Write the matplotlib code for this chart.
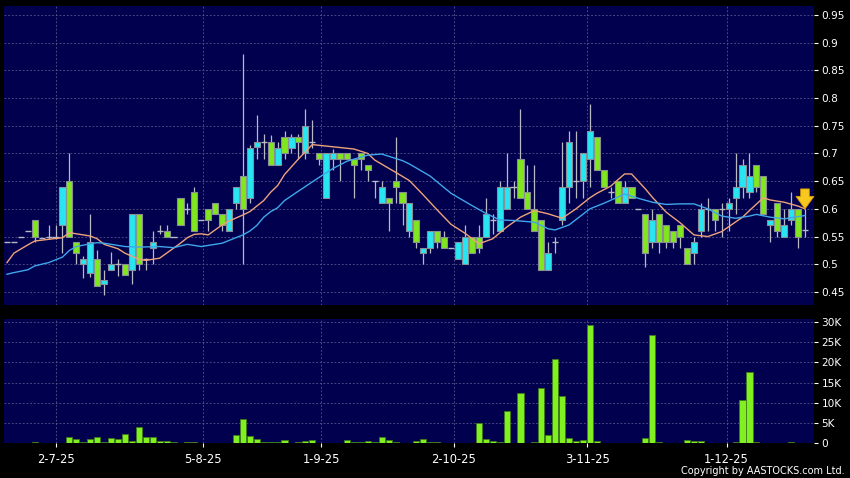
import matplotlib
matplotlib.use("Agg")
import matplotlib.pyplot as plt
import numpy as np

# ---------------- data ----------------
opens = [0.54, 0.54, 0.55, 0.56, 0.58, 0.548, 0.55, 0.55, 0.57, 0.65,
         0.54, 0.50, 0.485, 0.51, 0.465, 0.49, 0.50, 0.50, 0.49, 0.59,
         0.51, 0.53, 0.56, 0.56, 0.55, 0.62, 0.60, 0.63, 0.58, 0.60,
         0.61, 0.59, 0.56, 0.61, 0.66, 0.62, 0.711, 0.72, 0.72, 0.68,
         0.73, 0.71, 0.73, 0.70, 0.72, 0.70, 0.62, 0.69, 0.70, 0.70,
         0.69, 0.70, 0.68, 0.65, 0.61, 0.62, 0.65, 0.63, 0.56, 0.58,
         0.52, 0.53, 0.56, 0.55, 0.53, 0.51, 0.50, 0.55, 0.55, 0.55,
         0.58, 0.56, 0.60, 0.64, 0.69, 0.63, 0.60, 0.58, 0.49, 0.54,
         0.58, 0.64, 0.65, 0.65, 0.69, 0.73, 0.67, 0.63, 0.65, 0.61,
         0.64, 0.60, 0.59, 0.54, 0.59, 0.57, 0.56, 0.57, 0.53, 0.52,
         0.56, 0.60, 0.60, 0.60, 0.60, 0.62, 0.64, 0.63, 0.68, 0.66,
         0.57, 0.61, 0.55, 0.58, 0.60, 0.562]
highs = [0.54, 0.54, 0.55, 0.56, 0.58, 0.548, 0.57, 0.57, 0.64, 0.70,
         0.54, 0.515, 0.59, 0.525, 0.49, 0.523, 0.51, 0.50, 0.59, 0.59,
         0.512, 0.56, 0.57, 0.57, 0.55, 0.62, 0.61, 0.64, 0.58, 0.60,
         0.61, 0.59, 0.60, 0.64, 0.88, 0.715, 0.77, 0.735, 0.733, 0.72,
         0.74, 0.735, 0.735, 0.78, 0.76, 0.70, 0.70, 0.708, 0.70, 0.70,
         0.69, 0.70, 0.68, 0.65, 0.65, 0.62, 0.73, 0.63, 0.61, 0.58,
         0.53, 0.56, 0.56, 0.56, 0.53, 0.54, 0.57, 0.55, 0.57, 0.62,
         0.59, 0.65, 0.70, 0.65, 0.78, 0.68, 0.68, 0.58, 0.54, 0.55,
         0.72, 0.74, 0.74, 0.70, 0.79, 0.73, 0.67, 0.64, 0.65, 0.65,
         0.64, 0.60, 0.59, 0.60, 0.59, 0.57, 0.56, 0.57, 0.53, 0.55,
         0.61, 0.62, 0.60, 0.61, 0.62, 0.70, 0.69, 0.70, 0.68, 0.66,
         0.58, 0.61, 0.60, 0.63, 0.60, 0.60]
lows = [0.54, 0.54, 0.55, 0.56, 0.54, 0.548, 0.545, 0.545, 0.52, 0.55,
        0.50, 0.475, 0.477, 0.46, 0.445, 0.49, 0.478, 0.48, 0.465, 0.49,
        0.49, 0.50, 0.555, 0.55, 0.55, 0.57, 0.59, 0.56, 0.58, 0.56,
        0.59, 0.56, 0.56, 0.60, 0.50, 0.61, 0.69, 0.69, 0.68, 0.68,
        0.69, 0.70, 0.69, 0.69, 0.71, 0.68, 0.62, 0.67, 0.65, 0.69,
        0.62, 0.67, 0.65, 0.62, 0.61, 0.56, 0.61, 0.57, 0.55, 0.53,
        0.50, 0.52, 0.53, 0.53, 0.53, 0.51, 0.50, 0.52, 0.52, 0.55,
        0.555, 0.56, 0.60, 0.62, 0.62, 0.60, 0.56, 0.49, 0.49, 0.52,
        0.57, 0.61, 0.62, 0.62, 0.64, 0.67, 0.64, 0.62, 0.61, 0.61,
        0.62, 0.60, 0.495, 0.53, 0.52, 0.53, 0.53, 0.53, 0.50, 0.50,
        0.55, 0.56, 0.56, 0.55, 0.56, 0.59, 0.62, 0.62, 0.63, 0.59,
        0.54, 0.55, 0.55, 0.57, 0.53, 0.55]
closes = [0.54, 0.54, 0.55, 0.56, 0.55, 0.548, 0.55, 0.55, 0.64, 0.55,
          0.52, 0.51, 0.54, 0.46, 0.472, 0.50, 0.50, 0.48, 0.59, 0.50,
          0.51, 0.54, 0.56, 0.55, 0.55, 0.57, 0.60, 0.56, 0.58, 0.58,
          0.59, 0.57, 0.60, 0.64, 0.60, 0.71, 0.72, 0.72, 0.68, 0.71,
          0.70, 0.73, 0.72, 0.75, 0.72, 0.69, 0.70, 0.70, 0.69, 0.69,
          0.68, 0.69, 0.67, 0.65, 0.64, 0.61, 0.64, 0.61, 0.61, 0.54,
          0.53, 0.56, 0.54, 0.53, 0.53, 0.54, 0.55, 0.52, 0.53, 0.59,
          0.58, 0.64, 0.64, 0.64, 0.62, 0.60, 0.56, 0.49, 0.52, 0.54,
          0.64, 0.72, 0.65, 0.70, 0.74, 0.67, 0.64, 0.63, 0.61, 0.64,
          0.62, 0.60, 0.52, 0.58, 0.54, 0.54, 0.54, 0.55, 0.50, 0.54,
          0.60, 0.60, 0.58, 0.60, 0.61, 0.64, 0.68, 0.66, 0.64, 0.59,
          0.58, 0.56, 0.57, 0.60, 0.55, 0.562]
volumes = [50, 50, 50, 50, 200, 100, 100, 100, 100, 1560,
           1070, 330, 1070, 1560, 330, 1230, 990, 2380, 580, 4000,
           1480, 1480, 580, 660, 410, 50, 250, 250, 50, 50,
           50, 50, 50, 2140, 5900, 1800, 1150, 410, 330, 410,
           820, 50, 250, 580, 820, 100, 50, 50, 50, 820,
           250, 250, 580, 200, 1560, 740, 330, 50, 150, 580,
           1070, 250, 330, 50, 50, 50, 100, 50, 4950, 1000,
           580, 330, 7900, 50, 12400, 50, 410, 13600, 2000, 20900,
           11700, 1240, 580, 820, 29200, 580, 100, 50, 50, 50,
           50, 50, 1240, 26800, 250, 100, 50, 50, 900, 580,
           580, 50, 50, 50, 50, 410, 10600, 17700, 250, 150,
           150, 50, 50, 250, 50, 50]

ma_short_idx = [0, 1, 3, 4, 6, 8, 9, 10, 12, 13, 14, 16, 17, 19, 20, 22, 25, 26,
                27, 28, 29, 31, 32, 34, 35, 37, 38, 39, 40, 42, 44, 47, 50, 52,
                53, 56, 58, 60, 62, 64, 66, 68, 70, 72, 74, 76, 78, 80, 82, 84,
                85, 87, 89, 90, 92, 93, 95, 97, 99, 101, 103, 106, 107, 109, 110,
                112, 114, 115]
ma_short_val = [0.503, 0.52, 0.535, 0.542, 0.545, 0.548, 0.557, 0.555, 0.551, 0.546,
                0.536, 0.528, 0.52, 0.509, 0.507, 0.511, 0.538, 0.548, 0.554, 0.555,
                0.553, 0.571, 0.578, 0.589, 0.595, 0.615, 0.63, 0.642, 0.662, 0.69,
                0.716, 0.712, 0.708, 0.70, 0.688, 0.666, 0.651, 0.625, 0.598, 0.572,
                0.556, 0.537, 0.546, 0.567, 0.585, 0.597, 0.591, 0.583, 0.60, 0.62,
                0.628, 0.641, 0.663, 0.663, 0.636, 0.621, 0.594, 0.575, 0.553, 0.55,
                0.559, 0.585, 0.597, 0.62, 0.616, 0.612, 0.605, 0.60]
ma_long_idx = [0, 1, 3, 4, 6, 8, 9, 10, 12, 13, 14, 16, 17, 19, 22, 24, 26, 28,
               31, 32, 34, 35, 36, 37, 38, 39, 40, 42, 45, 47, 49, 52, 54, 57,
               58, 61, 64, 67, 69, 71, 73, 76, 78, 79, 81, 84, 86, 88, 89, 91,
               93, 95, 97, 99, 101, 103, 105, 107, 108, 110, 112, 114, 115]
ma_long_val = [0.482, 0.485, 0.49, 0.497, 0.503, 0.513, 0.525, 0.532, 0.537, 0.539,
               0.538, 0.534, 0.532, 0.531, 0.532, 0.530, 0.536, 0.532, 0.538, 0.543,
               0.553, 0.56, 0.57, 0.585, 0.595, 0.602, 0.615, 0.632, 0.657, 0.673,
               0.686, 0.697, 0.699, 0.687, 0.681, 0.659, 0.628, 0.606, 0.592, 0.58,
               0.579, 0.576, 0.564, 0.562, 0.571, 0.60, 0.61, 0.621, 0.627, 0.619,
               0.612, 0.608, 0.609, 0.609, 0.60, 0.587, 0.583, 0.587, 0.59, 0.585,
               0.582, 0.586, 0.588]

date_tick_pos = [7, 28.2, 45.3, 64.4, 83.6, 103.7]
date_tick_labels = ['2-7-25', '5-8-25', '1-9-25', '2-10-25', '3-11-25', '1-12-25']
price_ticks = [0.45, 0.5, 0.55, 0.6, 0.65, 0.7, 0.75, 0.8, 0.85, 0.9, 0.95]
vol_ticks = [0, 5000, 10000, 15000, 20000, 25000, 30000]
vol_tick_labels = ['0', '5K', '10K', '15K', '20K', '25K', '30K']

# ---------------- styling ----------------
BG = '#00004e'
GRID = '#56568a'
UP = '#25e6f2'
DOWN = '#80e61e'
EDGE = '#8a8f95'
WICK = '#b9b9c4'
TXT = '#ffffff'

W, H = 850, 478
fig = plt.figure(figsize=(W / 100, H / 100), dpi=100, facecolor='black')
L, R = 3.5, 814.0
ax1 = fig.add_axes([L / W, 1 - 305 / H, (R - L) / W, (305 - 5.5) / H])
ax2 = fig.add_axes([L / W, 1 - 443.3 / H, (R - L) / W, (443.3 - 319.3) / H])

n = len(closes)
x = np.arange(n)
o = np.array(opens); c = np.array(closes); hi = np.array(highs); lo = np.array(lows)
v = np.array(volumes)

for ax in (ax1, ax2):
    ax.set_facecolor(BG)
    for s in ax.spines.values():
        s.set_visible(False)
    ax.set_xlim(-0.5, 116.3)
    ax.yaxis.tick_right()
    ax.tick_params(axis='y', colors=TXT, labelsize=7.6, length=3, width=0.8, pad=2.5)
    ax.set_xticks(date_tick_pos)
    ax.grid(True, color=GRID, linestyle=(0, (2.2, 2.2)), linewidth=0.6)
    ax.set_axisbelow(True)

# price panel
ax1.set_ylim(0.4265, 0.967)
ax1.set_yticks(price_ticks)
ax1.set_yticklabels([f'{t:g}' for t in price_ticks])
ax1.tick_params(axis='x', length=0, labelbottom=False)

ax1.vlines(x, lo, hi, color=WICK, linewidth=0.9, zorder=2)
up = c > o
dn = c < o
eq = c == o
bw = 0.88
ax1.bar(x[up], (c - o)[up], bottom=o[up], width=bw, color=UP,
        edgecolor=EDGE, linewidth=0.8, zorder=3)
ax1.bar(x[dn], (o - c)[dn], bottom=c[dn], width=bw, color=DOWN,
        edgecolor=EDGE, linewidth=0.8, zorder=3)
ax1.hlines(c[eq], x[eq] - bw / 2, x[eq] + bw / 2, color=WICK, linewidth=1.0, zorder=3)

ax1.plot(ma_short_idx, ma_short_val, color='#eea27a', linewidth=1.0, zorder=4)
ax1.plot(ma_long_idx, ma_long_val, color='#3fa6ea', linewidth=1.0, zorder=4)

# latest marker arrow
ax1.annotate('', xy=(x[-1], 0.595), xytext=(x[-1], 0.641),
             arrowprops=dict(arrowstyle='simple,head_width=1.3,head_length=0.9,tail_width=0.62',
                             fc='#f7c81e', ec='#d99a00', lw=0.6, mutation_scale=10),
             zorder=6)

# volume panel
ax2.set_ylim(0, 30670)
ax2.set_yticks(vol_ticks)
ax2.set_yticklabels(vol_tick_labels)
ax2.bar(x, v, width=bw, color='#80f020', edgecolor='#3f7a1c', linewidth=0.6, zorder=3)
ax2.set_xticklabels(date_tick_labels)
ax2.tick_params(axis='x', colors=TXT, labelsize=8.3, length=3, width=0.8, pad=4)

fig.text(845 / W, 1 - 471 / H, 'Copyright by AASTOCKS.com Ltd.', color=TXT,
         fontsize=7, ha='right', va='center')

fig.savefig('out.png', dpi=100, facecolor='black')
